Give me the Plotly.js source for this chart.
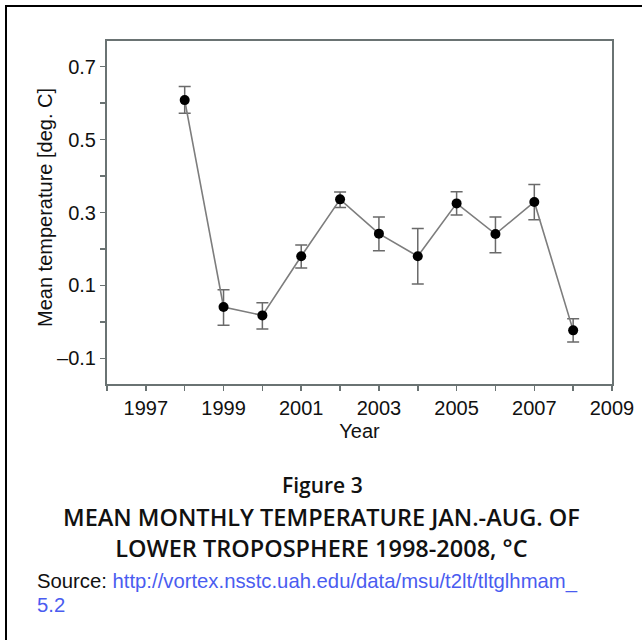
<!DOCTYPE html>
<html>
<head>
<meta charset="utf-8">
<script src="https://cdn.plot.ly/plotly-3.0.1.min.js"></script>
<style>
  html, body { margin: 0; padding: 0; background: #ffffff; }
  #wrap { position: relative; width: 642px; height: 640px; overflow: hidden; }
  #chart { position: absolute; left: 0; top: 0; width: 642px; height: 640px; }
  #frame { position: absolute; left: 5px; top: 5px; width: 700px; height: 700px;
           border-left: 2px solid #000; border-top: 2px solid #000; pointer-events: none; }
</style>
</head>
<body>
<div id="wrap">
  <div id="chart"></div>
  <div id="frame"></div>
</div>
<script>
// ---- data ----
const years = [1998, 1999, 2000, 2001, 2002, 2003, 2004, 2005, 2006, 2007, 2008];
const meanTemp = [0.608, 0.041, 0.018, 0.180, 0.336, 0.242, 0.180, 0.325, 0.241, 0.329, -0.023];
const errUpper = [0.645, 0.088, 0.053, 0.211, 0.356, 0.288, 0.256, 0.357, 0.288, 0.377, 0.009];
const errLower = [0.572, -0.009, -0.019, 0.148, 0.314, 0.195, 0.104, 0.293, 0.190, 0.280, -0.055];
const xTickVals = [1997, 1999, 2001, 2003, 2005, 2007, 2009];
const xTickText = ['1997', '1999', '2001', '2003', '2005', '2007', '2009'];
const yTickVals = [-0.1, 0.1, 0.3, 0.5, 0.7];
const yTickText = ['\u20130.1', '0.1', '0.3', '0.5', '0.7'];

const plusErr = meanTemp.map((v, i) => errUpper[i] - v);
const minusErr = meanTemp.map((v, i) => v - errLower[i]);

// ---- layout helpers (pixel -> paper) ----
const W = 642, H = 640;
const M = { l: 107, r: 30, t: 41, b: 256 };
const plotH = H - M.t - M.b;
const plotW = W - M.l - M.r;
const py = p => (H - M.b - p) / plotH;
const px = p => (p - M.l) / plotW;

const axisColor = '#6a7373';
const tickFont = { family: 'Liberation Sans, Arial, sans-serif', size: 20, color: '#111' };
const capFont = 'Open Sans, Lato, sans-serif';

const trace = {
  x: years,
  y: meanTemp,
  type: 'scatter',
  mode: 'lines+markers',
  line: { color: '#7d7d7d', width: 1.6 },
  marker: { color: '#000', size: 10 },
  error_y: {
    type: 'data', symmetric: false,
    array: plusErr, arrayminus: minusErr,
    color: '#6a6a6a', thickness: 1.5, width: 6
  },
  hoverinfo: 'x+y'
};

const layout = {
  width: W, height: H,
  margin: M,
  paper_bgcolor: '#ffffff',
  plot_bgcolor: '#ffffff',
  showlegend: false,
  xaxis: {
    range: [1996, 2009],
    showgrid: false, zeroline: false,
    showline: true, linecolor: axisColor, linewidth: 2, mirror: true,
    ticks: 'outside', ticklen: 5, tickwidth: 1.5, tickcolor: axisColor,
    tickmode: 'array', tickvals: xTickVals, ticktext: xTickText,
    tickfont: tickFont,
    minor: { tickmode: 'linear', tick0: 1996, dtick: 1, ticks: 'outside', ticklen: 5, tickwidth: 1.5, tickcolor: axisColor, showgrid: false },
    title: { text: 'Year', font: tickFont, standoff: 6 }
  },
  yaxis: {
    range: [-0.17, 0.77],
    showgrid: false, zeroline: false,
    showline: true, linecolor: axisColor, linewidth: 2, mirror: true,
    ticks: 'outside', ticklen: 5, tickwidth: 1.5, tickcolor: axisColor,
    tickmode: 'array', tickvals: yTickVals, ticktext: yTickText,
    tickfont: tickFont,
    minor: { tickmode: 'linear', tick0: 0, dtick: 0.1, ticks: 'outside', ticklen: 5, tickwidth: 1.5, tickcolor: axisColor, showgrid: false }
  },
  annotations: [
    { xref: 'paper', yref: 'paper', x: px(45), y: py(208), xanchor: 'center', yanchor: 'middle',
      textangle: -90, text: 'Mean temperature [deg. C]', showarrow: false, font: tickFont },
    { xref: 'paper', yref: 'paper', x: px(322), y: py(485), xanchor: 'center', yanchor: 'middle',
      text: 'Figure 3', showarrow: false, font: { family: capFont, size: 21, weight: 600, color: '#111' } },
    { xref: 'paper', yref: 'paper', x: px(321), y: py(532), xanchor: 'center', yanchor: 'middle', align: 'center',
      text: 'MEAN MONTHLY TEMPERATURE JAN.-AUG. OF<br>LOWER TROPOSPHERE 1998-2008, °C', showarrow: false,
      font: { family: capFont, size: 23.5, weight: 600, color: '#111' } },
    { xref: 'paper', yref: 'paper', x: px(35), y: py(581), xanchor: 'left', yanchor: 'middle',
      text: 'Source: <span style="color:#4a5cf0">http://vortex.nsstc.uah.edu/data/msu/t2lt/tltglhmam_</span>', showarrow: false,
      font: { family: 'Liberation Sans, Arial, sans-serif', size: 20.3, color: '#111' } },
    { xref: 'paper', yref: 'paper', x: px(35), y: py(605), xanchor: 'left', yanchor: 'middle',
      text: '5.2', showarrow: false,
      font: { family: 'Liberation Sans, Arial, sans-serif', size: 20.3, color: '#4a5cf0' } }
  ]
};

Plotly.newPlot('chart', [trace], layout, { displayModeBar: false, staticPlot: true });
</script>
</body>
</html>
